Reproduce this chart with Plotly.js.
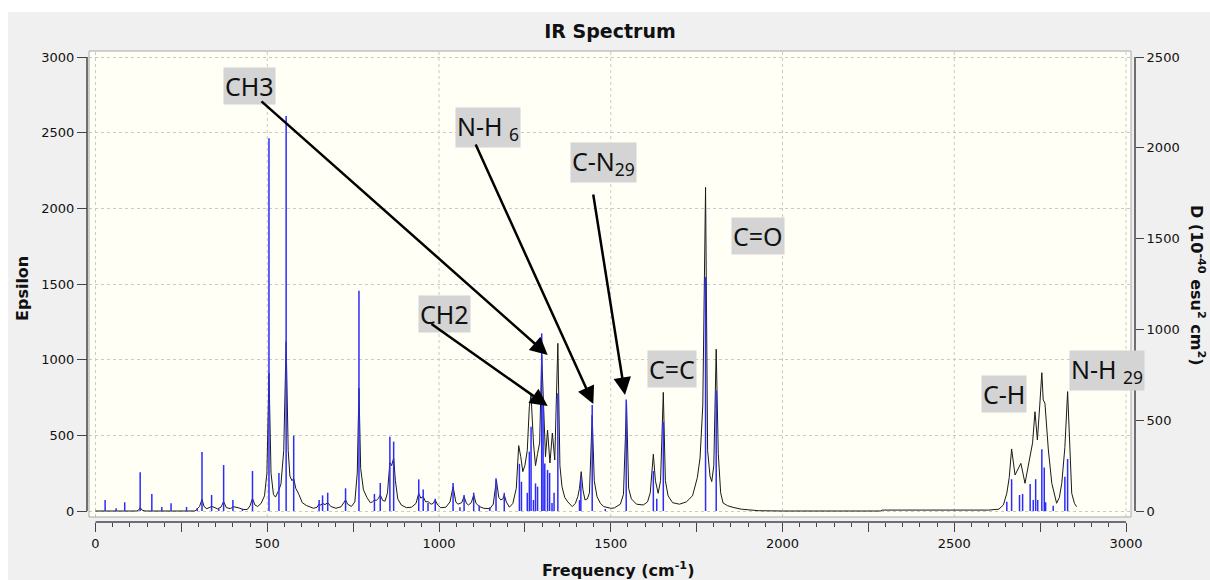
<!DOCTYPE html>
<html>
<head>
<meta charset="utf-8">
<script src="https://cdn.plot.ly/plotly-3.0.1.min.js"></script>
<style>html,body{margin:0;padding:0;background:#fff;}#chart{width:1210px;height:580px;}</style>
</head>
<body>
<div id="chart"></div>
<script>
// Broadened spectrum (black line): frequency (cm-1) and epsilon
const curveFreq = [0,120,125,130,136,145,290,296,303,310,316,324,332,338,345,355,365,373,381,392,402,415,430,442,450,457,464,472,482,492,499,505,511,518,524,530,534,540,548,555,561,566,572,577,583,592,602,615,635,645,651,656,661,668,676,685,700,715,722,728,734,745,755,762,767,772,780,790,800,806,812,818,824,829,836,843,850,857,862,868,873,880,890,905,920,933,941,947,954,961,968,977,983,989,996,1005,1020,1032,1041,1049,1055,1061,1066,1073,1080,1086,1094,1101,1108,1117,1130,1148,1158,1167,1174,1180,1186,1190,1196,1205,1215,1225,1232,1238,1244,1250,1257,1263,1268,1275,1281,1287,1293,1299,1304,1310,1316,1323,1330,1337,1346,1352,1358,1366,1375,1388,1397,1404,1409,1414,1419,1425,1432,1438,1446,1452,1460,1470,1480,1500,1510,1528,1537,1546,1552,1560,1575,1595,1607,1615,1624,1630,1638,1645,1653,1659,1667,1680,1700,1720,1738,1752,1760,1768,1776,1782,1789,1794,1800,1807,1813,1820,1827,1840,1856,1880,1930,2000,2285,2290,2600,2630,2643,2653,2660,2667,2677,2685,2694,2706,2714,2721,2728,2735,2742,2749,2755,2759,2764,2774,2784,2798,2806,2813,2822,2830,2836,2842,2850,2856];
const curveEps  = [0,0,5,22,5,0,0,12,30,77,30,15,22,30,25,14,25,62,22,16,28,22,10,10,35,84,40,30,50,100,250,910,250,110,92,120,139,180,400,1119,400,230,200,216,150,110,55,35,18,25,48,38,51,42,55,30,18,28,50,73,45,30,60,250,811,280,140,90,55,60,73,70,85,106,70,65,120,320,300,350,200,80,40,22,25,50,117,85,95,60,62,45,50,73,40,22,25,60,161,60,45,53,55,95,50,40,55,106,50,30,18,15,45,205,90,73,80,106,60,25,50,150,432,359,260,300,400,689,767,450,300,380,450,1031,734,359,535,317,515,337,1108,300,161,90,60,29,50,95,150,260,140,73,80,120,634,200,95,50,29,18,20,45,110,714,150,80,45,40,60,120,375,200,117,200,784,200,100,55,45,60,100,220,350,700,2139,400,230,194,300,1069,380,120,53,35,24,12,2,0,0,6,6,12,40,117,220,410,238,280,315,183,280,359,450,656,469,700,914,734,712,403,183,51,90,183,420,789,400,117,50,29];

// Computed transitions (blue sticks): frequency (cm-1) and dipole strength D (1e-40 esu^2 cm^2)
const stickFreq = [28,60,85,130,164,193,220,265,296,310,338,359,373,400,428,457,505,534,555,577,651,661,676,728,767,812,829,857,868,941,954,968,989,1041,1061,1073,1101,1117,1148,1166,1190,1234,1240,1257,1263,1268,1275,1281,1287,1299,1303,1308,1316,1322,1329,1335,1346,1409,1413,1446,1484,1545,1624,1634,1653,1776,1807,2653,2667,2690,2699,2721,2730,2737,2743,2755,2762,2766,2788,2822,2830];
const stickD    = [60,15,48,213,94,22,42,22,15,325,88,12,253,61,12,220,2052,209,2175,415,60,86,101,125,1213,94,154,409,382,174,119,44,68,154,20,88,101,30,20,180,100,260,161,100,327,464,61,152,134,978,600,262,226,210,44,100,648,60,180,584,11,614,220,68,490,1288,664,51,175,88,94,149,61,175,61,340,240,48,29,189,286];

// Axis ticks
const xTickVals = [0,250,500,750,1000,1250,1500,1750,2000,2250,2500,2750,3000];
const xTickText = ['0','','500','','1000','','1500','','2000','','2500','','3000'];
const xGridVals = [0,500,1000,1500,2000,2500,3000];

// Peak labels and arrows
const labelTexts = ['CH3','N-H <sub>6</sub>','C-N<sub>29</sub>','C=O','CH2','C=C','C-H','N-H <sub>29</sub>'];

// ---- geometry helpers (pixel -> paper / data) ----
const L = 87, R = 1135, T = 51, B = 522;
const W = R - L, H = B - T;
const px = x => (x - L) / W;
const py = y => (B - y) / H;
const dx = x => (x - 95.5) / 0.3435;
const dy = y => (511 - y) / 0.15133;

const sx = [], sy = [];
for (let i = 0; i < stickFreq.length; i++) {
  sx.push(stickFreq[i], stickFreq[i], null);
  sy.push(0, stickD[i], null);
}

const traces = [
  {type:'scatter', mode:'lines', x: curveFreq, y: curveEps, xaxis:'x', yaxis:'y',
   line:{color:'#1a1a1a', width:1}, hoverinfo:'skip', showlegend:false},
  {type:'scatter', mode:'lines', x: sx, y: sy, xaxis:'x', yaxis:'y2',
   line:{color:'#2b2bff', width:1.5}, connectgaps:false, hoverinfo:'skip', showlegend:false}
];

const tickFont = {family:'DejaVu Sans', size:13, color:'#111'};
const shapes = [];
// vertical dashed grid
xGridVals.forEach(v => shapes.push({type:'line', xref:'x', yref:'paper', x0:v, x1:v, y0:py(517), y1:1,
  line:{color:'#c9c9c9', width:1, dash:'3px,3px'}, layer:'below'}));
// frame
shapes.push({type:'rect', xref:'paper', yref:'paper', x0:px(89), x1:px(1131), y0:py(517), y1:1,
  line:{color:'#a8a8a8', width:1}, fillcolor:'rgba(0,0,0,0)', layer:'above'});
// axis lines spanning tick ranges
shapes.push({type:'line', xref:'paper', yref:'y', x0:0, x1:0, y0:0, y1:3000, line:{color:'#444', width:1.5}, layer:'above'});
shapes.push({type:'line', xref:'paper', yref:'y', x0:1, x1:1, y0:0, y1:3000, line:{color:'#444', width:1.5}, layer:'above'});
shapes.push({type:'line', xref:'x', yref:'paper', x0:0, x1:3000, y0:0, y1:0, line:{color:'#444', width:1.5}, layer:'above'});
// white edges of screenshot
shapes.push({type:'rect', xref:'paper', yref:'paper', x0:px(-5), x1:px(1215), y0:py(12), y1:py(-5), line:{width:0}, fillcolor:'#ffffff', layer:'above'});
shapes.push({type:'rect', xref:'paper', yref:'paper', x0:px(-5), x1:px(8), y0:py(585), y1:py(-5), line:{width:0}, fillcolor:'#ffffff', layer:'above'});

const labelPos = [[249.5,85.5],[488,128],[603,163],[758,235.5],[444,314],[672,369],[1004,394],[1107,370]];
const annotations = labelTexts.map((t,i) => ({
  xref:'paper', yref:'paper', x:px(labelPos[i][0]), y:py(labelPos[i][1]), xanchor:'center', yanchor:'middle',
  text:t, showarrow:false, bgcolor:'#d4d4d4', borderpad:1,
  font:{family:'Noto Sans', size:25, color:'#111'}
}));

// arrows: tip pixel, tail pixel
const arrows = [[[547.7,355],[260,100]], [[547.7,406],[430,323]], [[593.3,404],[475,143]], [[625,395],[593,193]]];
arrows.forEach(a => annotations.push({
  xref:'x', yref:'y', x:dx(a[0][0]), y:dy(a[0][1]), axref:'pixel', ayref:'pixel',
  ax:a[1][0]-a[0][0], ay:a[1][1]-a[0][1], text:'', showarrow:true,
  arrowhead:2, arrowsize:1.4, arrowwidth:2.5, arrowcolor:'#000', standoff:0
}));

// axis titles
annotations.push({xref:'paper', yref:'paper', x:px(22), y:py(289), text:'<b>Epsilon</b>', textangle:-90, showarrow:false,
  xanchor:'center', yanchor:'middle', font:{family:'DejaVu Sans', size:16, color:'#111'}});
annotations.push({xref:'paper', yref:'paper', x:px(618), y:py(569), text:'<b>Frequency (cm<sup>-1</sup>)</b>', showarrow:false,
  xanchor:'center', yanchor:'middle', font:{family:'DejaVu Sans', size:16, color:'#111'}});
annotations.push({xref:'paper', yref:'paper', x:px(1198), y:py(285), text:'<b>D (10<sup>-40</sup> esu<sup>2</sup> cm<sup>2</sup>)</b>', textangle:90, showarrow:false,
  xanchor:'center', yanchor:'middle', font:{family:'DejaVu Sans', size:16, color:'#111'}});

const layout = {
  width:1210, height:580, autosize:false,
  margin:{l:L, r:1210-R, t:T, b:580-B, pad:0},
  paper_bgcolor:'#f0f0f0', plot_bgcolor:'#fffff5',
  showlegend:false,
  title:{text:'<b>IR Spectrum</b>', x:610/1210, xref:'container', y:1-31/580, yref:'container',
    xanchor:'center', yanchor:'middle', font:{family:'DejaVu Sans', size:19, color:'#111'}},
  xaxis:{domain:[px(89), px(1131)], range:[dx(89), dx(1131)], anchor:'free', position:0,
    tickmode:'array', tickvals:xTickVals, ticktext:xTickText, ticks:'outside', ticklen:9, tickwidth:1, tickcolor:'#444',
    minor:{tickmode:'linear', tick0:0, dtick:50, ticks:'outside', ticklen:4, tickwidth:1, tickcolor:'#444', showgrid:false},
    showgrid:false, zeroline:false, showline:false, tickfont:tickFont},
  yaxis:{domain:[py(517), 1], range:[dy(517), dy(51)], anchor:'free', position:0,
    tickmode:'linear', tick0:0, dtick:500, ticks:'outside', ticklen:10, tickwidth:1, tickcolor:'#444',
    showgrid:true, gridcolor:'#c9c9c9', griddash:'3px,3px', gridwidth:1, zeroline:false, showline:false, tickfont:tickFont},
  yaxis2:{overlaying:'y', side:'right', anchor:'free', position:1,
    range:[dy(517)*5/6, dy(51)*5/6], tickmode:'linear', tick0:0, dtick:500, ticks:'outside', ticklen:8, tickwidth:1, tickcolor:'#444',
    showgrid:false, zeroline:false, showline:false, tickfont:tickFont},
  shapes:shapes, annotations:annotations
};

Plotly.newPlot('chart', traces, layout, {staticPlot:true, displayModeBar:false});
</script>
</body>
</html>
